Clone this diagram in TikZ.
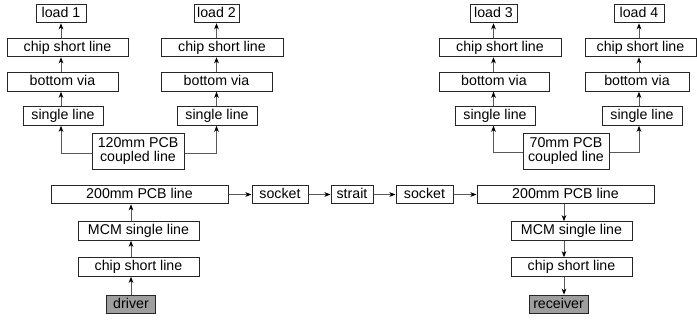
\documentclass[tikz,border=0pt]{standalone}
\usepackage{fontspec}
\setmainfont{Liberation Sans}
\usetikzlibrary{arrows.meta}
\begin{document}
\begin{tikzpicture}[x=1pt,y=-1pt,
  box/.style={draw=black!85,line width=1pt,inner sep=0pt,minimum height=18.5pt,font=\fontsize{14.2}{15}\selectfont,text height=10pt,text depth=3pt},
  grey/.style={box,fill=black!38},
  conn/.style={draw=black!65,line width=1pt,-{Stealth[length=6pt,width=4.6pt,inset=1.6pt,color=black]}},
  plain/.style={draw=black!65,line width=1pt}]
\useasboundingbox (0,0) rectangle (697,324);
% top-left group
\node[box,minimum width=50pt] (load1) at (61,13.5) {load 1};
\node[box,minimum width=121pt] (cs1) at (67.5,47.5) {chip short line};
\node[box,minimum width=111pt] (bv1) at (62.5,82) {bottom via};
\node[box,minimum width=80pt] (sl1) at (63,116) {single line};
\node[box,minimum width=45pt] (load2) at (216.5,13.5) {load 2};
\node[box,minimum width=122pt] (cs2) at (222,47.5) {chip short line};
\node[box,minimum width=111pt] (bv2) at (216.5,82) {bottom via};
\node[box,minimum width=80pt] (sl2) at (217,116) {single line};
\node[box,minimum width=92pt,minimum height=36pt,align=center,text height=,text depth=] (p120) at (138,151) {120mm PCB\\[-1pt]coupled line};
% top-right group
\node[box,minimum width=47pt] (load3) at (493.5,13.5) {load 3};
\node[box,minimum width=122pt] (cs3) at (500,47.5) {chip short line};
\node[box,minimum width=110pt] (bv3) at (494,82) {bottom via};
\node[box,minimum width=80pt] (sl3) at (495,116) {single line};
\node[box,minimum width=50pt] (load4) at (639,13.5) {load 4};
\node[box,minimum width=111pt] (cs4) at (640.5,47.5) {chip short line};
\node[box,minimum width=104pt] (bv4) at (637,82) {bottom via};
\node[box,minimum width=80pt] (sl4) at (642,116) {single line};
\node[box,minimum width=86pt,minimum height=36pt,align=center,text height=,text depth=] (p70) at (566,151) {70mm PCB\\[-1pt]coupled line};
% bottom row
\node[box,minimum width=177pt] (pa) at (139.5,194.5) {200mm PCB line};
\node[box,minimum width=56pt] (s1) at (280,194.5) {socket};
\node[box,minimum width=42pt] (st) at (352,194.5) {strait};
\node[box,minimum width=57pt] (s2) at (424.5,194.5) {socket};
\node[box,minimum width=177pt] (pb) at (565.5,194.5) {200mm PCB line};
\node[box,minimum width=121pt] (m1) at (138.5,231) {MCM single line};
\node[box,minimum width=121pt] (c1) at (138.5,267) {chip short line};
\node[grey,minimum width=49pt] (drv) at (131,304.5) {driver};
\node[box,minimum width=121pt] (m2) at (571.5,231) {MCM single line};
\node[box,minimum width=121pt] (c2) at (571.5,267) {chip short line};
\node[grey,minimum width=59pt] (rcv) at (558.5,304.5) {receiver};
% connectors top-left
\draw[conn] (load1.south |- cs1.north) -- (load1.south);
\draw[conn] (load1.south |- bv1.north) -- (load1.south |- cs1.south);
\draw[conn] (load1.south |- sl1.north) -- (load1.south |- bv1.south);
\draw[conn] (p120.west |- 0,153) -| (load1.south |- sl1.south);
\draw[conn] (load2.south |- cs2.north) -- (load2.south);
\draw[conn] (load2.south |- bv2.north) -- (load2.south |- cs2.south);
\draw[conn] (load2.south |- sl2.north) -- (load2.south |- bv2.south);
\draw[conn] (p120.east |- 0,153) -| (load2.south |- sl2.south);
% connectors top-right
\draw[conn] (load3.south |- cs3.north) -- (load3.south);
\draw[conn] (load3.south |- bv3.north) -- (load3.south |- cs3.south);
\draw[conn] (load3.south |- sl3.north) -- (load3.south |- bv3.south);
\draw[conn] (p70.west |- 0,152) -| (load3.south |- sl3.south);
\draw[conn] (load4.south |- cs4.north) -- (load4.south);
\draw[conn] (load4.south |- bv4.north) -- (load4.south |- cs4.south);
\draw[conn] (load4.south |- sl4.north) -- (load4.south |- bv4.south);
\draw[conn] (p70.east |- 0,152) -| (load4.south |- sl4.south);
% bottom row
\draw[conn] (pa) -- (s1);
\draw[conn] (s1) -- (st);
\draw[conn] (st) -- (s2);
\draw[conn] (s2) -- (pb);
\draw[conn] (drv.north) -- (drv.north |- c1.south);
\draw[conn] (drv.north |- c1.north) -- (drv.north |- m1.south);
\draw[conn] (drv.north |- m1.north) -- (drv.north |- pa.south);
\draw[conn] (pb.south -| 564,0) -- (m2.north -| 564,0);
\draw[conn] (m2.south -| 564,0) -- (c2.north -| 564,0);
\draw[conn] (c2.south -| 564,0) -- (rcv.north -| 564,0);
\end{tikzpicture}
\end{document}
